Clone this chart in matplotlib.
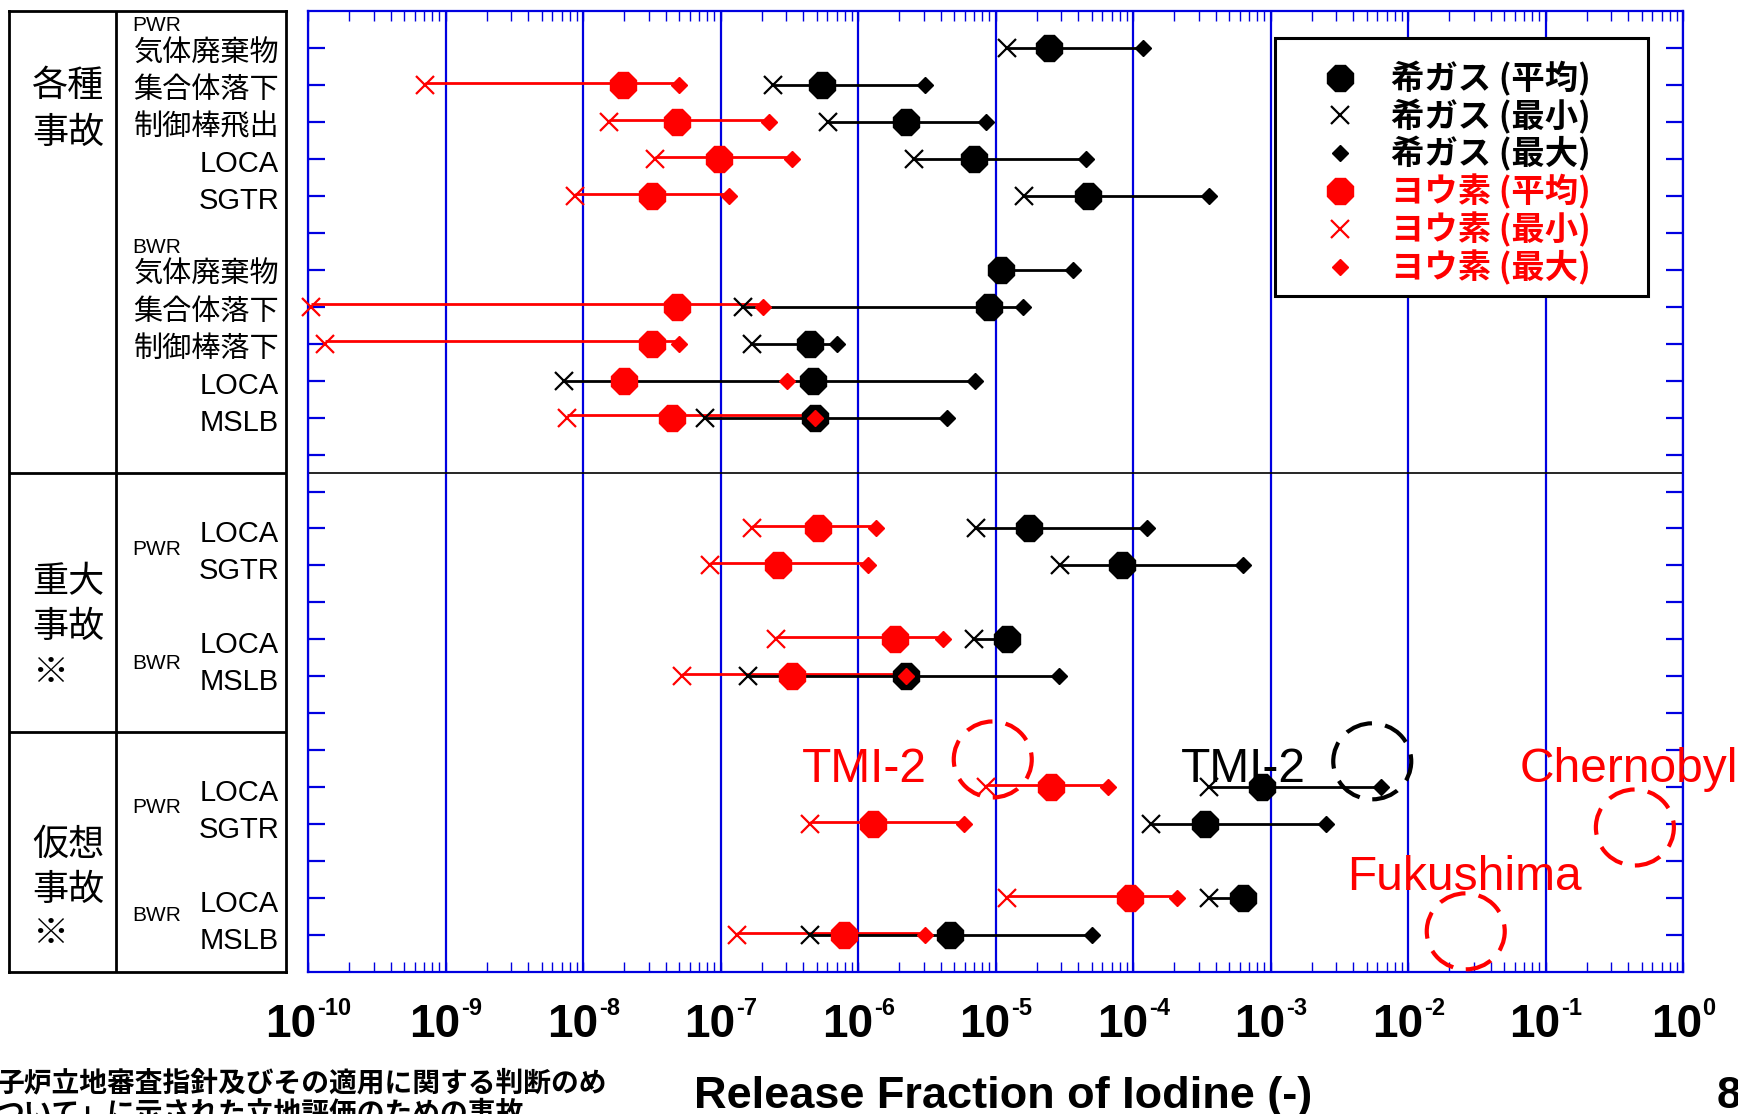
import numpy as np
import matplotlib
matplotlib.use('Agg')
import matplotlib.pyplot as plt
import matplotlib.transforms as mtransforms
from matplotlib.lines import Line2D
from matplotlib.patches import Ellipse, Rectangle
from matplotlib.ticker import LogLocator, NullFormatter

plt.rcParams['font.family'] = ['Liberation Sans', 'Noto Sans CJK JP', 'DejaVu Sans']

nan = np.nan

# ---- data (log10 of release fraction) ----
rows = [1, 2, 3, 4, 5, 7, 8, 9, 10, 11, 14, 15, 17, 18, 21, 22, 24, 25]
row_labels = ['気体廃棄物', '集合体落下', '制御棒飛出', 'LOCA', 'SGTR',
              '気体廃棄物', '集合体落下', '制御棒落下', 'LOCA', 'MSLB',
              'LOCA', 'SGTR', 'LOCA', 'MSLB',
              'LOCA', 'SGTR', 'LOCA', 'MSLB']

gas_min = [-4.92, -6.62, -6.22, -5.59, -4.79, nan, -6.84, -6.77, -8.14, -7.11,
           -5.14, -4.53, -5.16, -6.80, -3.45, -3.87, -3.45, -6.35]
gas_mean = [-4.61, -6.26, -5.65, -5.16, -4.33, -4.96, -5.05, -6.35, -6.33, -6.31,
            -4.76, -4.08, -4.92, -5.65, -3.06, -3.48, -3.20, -5.33]
gas_max = [-3.93, -5.51, -5.07, -4.34, -3.45, -4.44, -4.80, -6.15, -5.15, -5.35,
           -3.90, -3.20, nan, -4.54, -2.20, -2.60, nan, -4.30]
iod_min = [nan, -9.15, -7.81, -7.48, -8.06, nan, -9.98, -9.88, nan, -8.12,
           -6.77, -7.08, -6.60, -7.28, -5.07, -6.35, -4.92, -6.88]
iod_mean = [nan, -7.71, -7.32, -7.01, -7.50, nan, -7.32, -7.50, -7.70, -7.35,
            -6.29, -6.58, -5.73, -6.48, -4.60, -5.89, -4.02, -6.10]
iod_max = [nan, -7.30, -6.65, -6.48, -6.94, nan, -6.69, -7.30, -6.52, -6.31,
           -5.87, -5.93, -5.38, -5.65, -4.18, -5.23, -3.68, -5.51]

# accident circles: (log10 x, row)
ring_names = ['TMI-2 iodine', 'TMI-2 gas', 'Chernobyl', 'Fukushima']
ring_x = [-5.02, -2.26, -0.35, -1.58]
ring_y = [20.25, 20.30, 22.09, 24.90]
ring_colors = ['red', 'black', 'red', 'red']

decades = list(range(-10, 1))

legend_labels = ['希ガス (平均)', '希ガス (最小)', '希ガス (最大)',
                 'ヨウ素 (平均)', 'ヨウ素 (最小)', 'ヨウ素 (最大)']

BLUE = '#0000e0'

fig = plt.figure(figsize=(17.38, 11.14), dpi=100)
W, H = 1738.0, 1114.0
ax = fig.add_axes([308 / W, 1 - 972 / H, 1375 / W, 961 / H])
ax.set_xscale('log')
ax.set_xlim(1e-10, 1)
ax.set_ylim(26, 0)

y = np.array(rows, float)

# iodine lines from min to max (under), gas lines on top
imin, imax = np.array(iod_min), np.array(iod_max)
ok = ~np.isnan(imin)
ax.hlines(y[ok] - 0.06, 10.0 ** imin[ok], 10.0 ** imax[ok], color='red', lw=2.0, zorder=2)

g = np.vstack([gas_min, gas_mean, gas_max])
ax.hlines(y, 10.0 ** np.nanmin(g, axis=0), 10.0 ** np.nanmax(g, axis=0),
          color='black', lw=2.0, zorder=3)

for vals, col, z in [((gas_min, gas_mean, gas_max), 'black', 4),
                     ((iod_min, iod_mean, iod_max), 'red', 5)]:
    vmin, vmean, vmax = [10.0 ** np.array(v) for v in vals]
    ax.plot(vmean, y, ls='none', marker='8', ms=20, color=col, zorder=z, clip_on=False)
    ax.plot(vmin, y, ls='none', marker='x', ms=13, mew=1.6, color=col, zorder=z, clip_on=False)
    ax.plot(vmax, y, ls='none', marker='D', ms=8.5, color=col, zorder=z, clip_on=False)

# separator line
ax.axhline(12.5, color='black', lw=1.2, zorder=1)

# grid / ticks / spines
ax.xaxis.set_major_locator(LogLocator(base=10, numticks=20))
ax.xaxis.set_minor_locator(LogLocator(base=10, subs=np.arange(2, 10), numticks=20))
ax.xaxis.set_major_formatter(NullFormatter())
ax.xaxis.set_minor_formatter(NullFormatter())
ax.grid(axis='x', which='major', color=BLUE, lw=1.6, zorder=0)
ax.set_axisbelow(True)
ax.tick_params(axis='x', which='both', direction='in', top=True, bottom=True,
               color=BLUE, length=7.5, width=1.0)
ax.set_yticks(range(1, 26))
ax.set_yticklabels([])
ax.tick_params(axis='y', direction='in', left=True, right=True, color=BLUE,
               length=12, width=1.6)
for s in ax.spines.values():
    s.set_color(BLUE)
    s.set_linewidth(1.6)

# tick labels 10^n with a small superscript (Arial-bold widths used to centre)
base_fs, sup_fs = 33, 17
for e in decades:
    sup = '-%d' % (-e) if e < 0 else '%d' % e
    w_sup = (0.333 * sup.count('-') + 0.556 * sum(ch.isdigit() for ch in sup)) * sup_fs
    shift = (1.112 * base_fs - w_sup) / 2
    ax.annotate('10', xy=(10.0 ** e, 0), xycoords=('data', 'axes fraction'),
                xytext=(shift, -22.3), textcoords='offset points', ha='right', va='top',
                fontsize=base_fs, fontweight='bold', annotation_clip=False)
    ax.annotate(sup, xy=(10.0 ** e, 0), xycoords=('data', 'axes fraction'),
                xytext=(shift + 0.5, -18), textcoords='offset points', ha='left', va='top',
                fontsize=sup_fs, fontweight='bold', annotation_clip=False)

ax.set_xlabel('Release Fraction of Iodine (-)', fontsize=32.5, fontweight='bold')
ax.xaxis.set_label_coords(0.5055, -0.1415)
ax.xaxis.label.set_va('baseline')

# dashed circles
for rx, ry, rc in zip(ring_x, ring_y, ring_colors):
    tr = fig.dpi_scale_trans + mtransforms.ScaledTranslation(10.0 ** rx, ry, ax.transData)
    ax.add_patch(Ellipse((0, 0), 0.78, 0.76, transform=tr, fill=False, ec=rc,
                         lw=3.0, ls=(0, (6.5, 3.2)), clip_on=False, zorder=6))

ax.text(10 ** -6.41, 20.86, 'TMI-2', color='red', fontsize=34.5, va='baseline')
ax.text(10 ** -3.65, 20.86, 'TMI-2', color='black', fontsize=34.5, va='baseline')
ax.text(10 ** -1.19, 20.86, 'Chernobyl', color='red', fontsize=34.5, va='baseline')
ax.text(10 ** -2.446, 23.78, 'Fukushima', color='red', fontsize=34.5, va='baseline')

# legend (white box drawn separately so its size matches)
ax.add_patch(Rectangle((0.703, 0.7034), 0.2716, 0.2688, transform=ax.transAxes,
                       fc='white', ec='black', lw=2.2, zorder=6.5))
handles = []
for col in ['black', 'red']:
    handles += [Line2D([], [], ls='none', marker='8', ms=20, color=col),
                Line2D([], [], ls='none', marker='x', ms=13, mew=1.6, color=col),
                Line2D([], [], ls='none', marker='D', ms=8.5, color=col)]
leg = ax.legend(handles, legend_labels, loc='upper left',
                bbox_to_anchor=(0.703, 0.7034, 0.2716, 0.2688), mode='expand',
                prop=dict(family=['Noto Sans CJK JP'], weight='bold', size=24),
                frameon=False, borderpad=0.7, labelspacing=0.075,
                handlelength=2.5, handletextpad=0.3, borderaxespad=0)
leg.set_zorder(7)
for t, c in zip(leg.get_texts(), ['black'] * 3 + ['red'] * 3):
    t.set_color(c)

# left table
tab = fig.add_axes([9 / W, 1 - 972 / H, 277 / W, 961 / H])
tab.set_xlim(0, 277)
tab.set_ylim(26, 0)
tab.set_xticks([])
tab.set_yticks([])
for s in tab.spines.values():
    s.set_linewidth(2)
tab.axvline(107, color='black', lw=2)
tab.axhline(12.5, color='black', lw=2)
tab.axhline(19.5, color='black', lw=2)

for r, lab in zip(rows, row_labels):
    tab.text(270, r + 0.15, lab, fontsize=21, ha='right', va='center')

for r, lab in [(0.38, 'PWR'), (6.39, 'BWR'), (14.56, 'PWR'), (17.66, 'BWR'),
               (21.56, 'PWR'), (24.46, 'BWR')]:
    tab.text(123, r, lab, fontsize=15, ha='left', va='center')

for r, lab in [(2.05, '各種'), (3.3, '事故'),
               (15.47, '重大'), (16.69, '事故'), (17.91, '※'),
               (22.56, '仮想'), (23.8, '事故'), (24.99, '※')]:
    tab.text(23, r, lab, fontsize=26, ha='left', va='center')

# bottom texts (cut off in the original slide)
fig.text(-3 / W, 1 - 1084 / H, '子炉立地審査指針及びその適用に関する判断のめ',
         fontsize=20, fontweight='bold', ha='left', va='center')
fig.text(-3 / W, 1 - 1115 / H, 'ついて」に示された立地評価のための事故',
         fontsize=20, fontweight='bold', ha='left', va='center')
fig.text(1717 / W, 1 - 1108 / H, '8', fontsize=32, fontweight='bold',
         ha='left', va='baseline')

fig.savefig('out.png', dpi=100)
